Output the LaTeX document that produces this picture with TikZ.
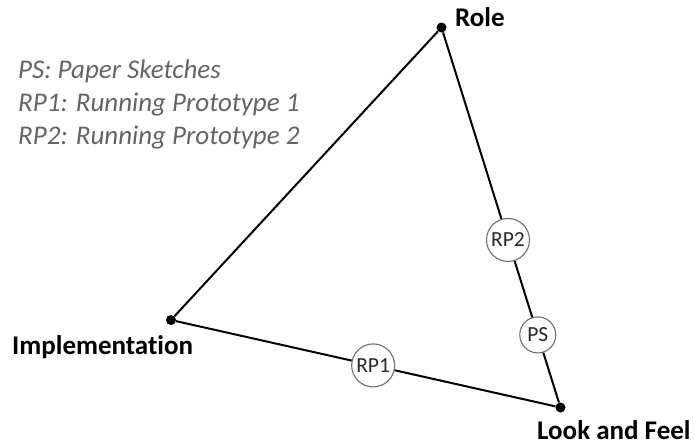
\documentclass[tikz,border=0pt]{standalone}
\usepackage{fontspec}
\setmainfont{Carlito}[Ligatures=NoCommon]
\usetikzlibrary{calc}
\definecolor{legendgray}{RGB}{100,100,100}
\definecolor{circgray}{RGB}{110,110,110}
\definecolor{labgray}{RGB}{40,40,40}
\begin{document}
\begin{tikzpicture}[x=1pt,y=-1pt,
  vertex/.style={circle,fill=black,inner sep=0pt,minimum size=10pt},
  edge/.style={line width=2pt,black},
  stage/.style={circle,draw=circgray,line width=1.1pt,fill=white,inner sep=0pt,minimum size=43pt,text=labgray,font=\fontsize{21.5}{24}\selectfont},
  corner/.style={inner sep=0pt,font=\fontsize{27}{30}\selectfont\bfseries},
  legend/.style={inner sep=0pt,anchor=base west,text=legendgray,font=\fontsize{27}{30}\selectfont\itshape}]
\useasboundingbox (0,0) rectangle (694,445);
\node[vertex] (role) at (441.5,27.5) {};
\node[vertex] (impl) at (171,320) {};
\node[vertex] (lf) at (560.5,407.5) {};
\node[stage] (rp2) at ($(role)!0.559!(lf)$) {RP2};
\node[stage,minimum size=36pt] (ps) at ($(role)!0.809!(lf)$) {PS};
\node[stage] (rp1) at ($(impl)!0.519!(lf)$) {RP1};
\draw[edge] (impl) -- (role);
\draw[edge] (role) -- (rp2);
\draw[edge] (rp2) -- (ps);
\draw[edge] (ps) -- (lf);
\draw[edge] (impl) -- (rp1);
\draw[edge] (rp1) -- (lf);
\node[corner,anchor=base west] (rolelab) at (455,26) {Role};
\node[corner,anchor=base west] (impllab) at (12,354) {Implementation};
\node[corner,anchor=base west] (lflab) at (537,439) {Look and Feel};
\node[legend] (l1) at (18,78) {PS: Paper Sketches};
\node[legend] (l2) at (18,111) {RP1: Running Prototype 1};
\node[legend] (l3) at (18,144) {RP2: Running Prototype 2};
\end{tikzpicture}
\end{document}
